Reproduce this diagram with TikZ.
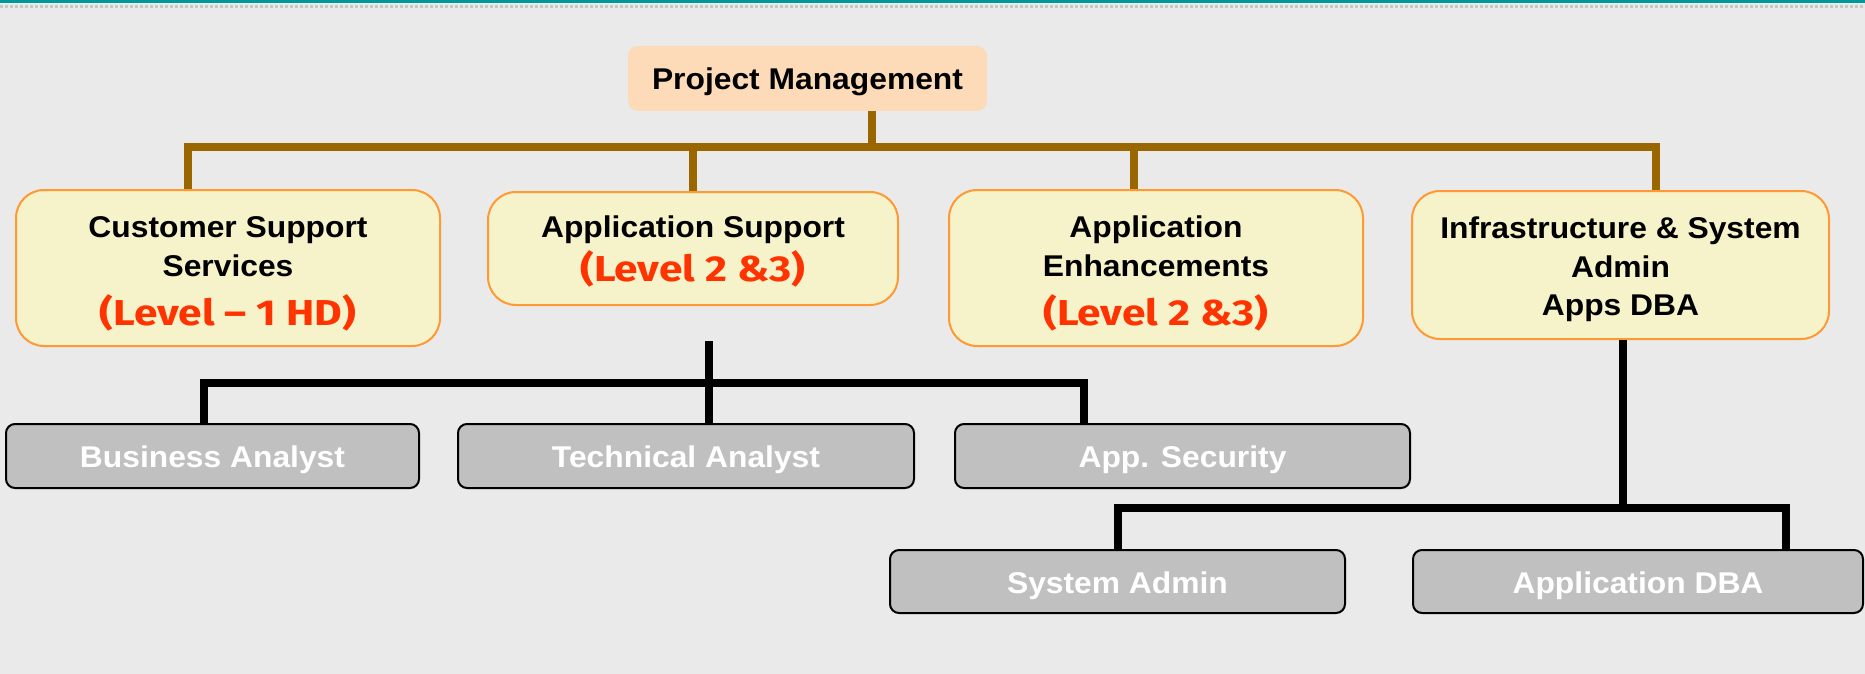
\documentclass[tikz,border=0pt]{standalone}
\usepackage{fontspec}
\setmainfont{Liberation Sans}[FakeStretch=1.06]
\newfontfamily\redfont{Fira Sans}[FakeStretch=1.18]
\definecolor{bgc}{RGB}{234,234,234}
\definecolor{tealc}{RGB}{0,153,153}
\definecolor{dotc}{RGB}{200,200,200}
\definecolor{peach}{RGB}{253,219,185}
\definecolor{cream}{RGB}{246,243,203}
\definecolor{orangeb}{RGB}{255,153,51}
\definecolor{brownc}{RGB}{153,102,0}
\definecolor{grayc}{RGB}{192,192,192}
\definecolor{redc}{RGB}{255,51,0}
\newcommand{\blk}{\fontsize{30}{38}\selectfont\bfseries}
\newcommand{\redl}{\redfont\fontsize{36}{44}\selectfont\bfseries\color{redc}}
\newcommand{\topstrut}[1]{\rule{0pt}{#1}}
\begin{document}
\begin{tikzpicture}[x=1pt,y=-1pt,
  pmbox/.style={fill=peach, rounded corners=10, inner sep=0, align=center, font=\blk, text depth=0pt},
  ybox/.style={draw=orangeb, line width=2, fill=cream, rounded corners=28, inner sep=0, align=center, font=\blk},
  gbox/.style={draw=black, line width=2, fill=grayc, rounded corners=9, inner sep=0, align=center, font=\blk, text=white, text depth=0pt},
  brownln/.style={draw=brownc, line width=8, line join=miter},
  blackln/.style={draw=black, line width=8, line join=miter}]
\useasboundingbox (0,0) rectangle (1865,674);
\fill[bgc] (0,0) rectangle (1865,674);
\fill[tealc] (0,0) rectangle (1865,3);
\draw[dotc, line width=3, dash pattern=on 3 off 2] (0,6.5) -- (1865,6.5);

% top
\node[pmbox, minimum width=359, minimum height=65] (pm) at (807.5,78.5) {Project Management};

\node[ybox, minimum width=424, minimum height=156] (cust) at (228,268)
  {\topstrut{33pt}Customer Support\\[1pt]Services\\[11pt]{\redl (Level – 1 HD)}};
\node[ybox, minimum width=410, minimum height=113] (appsup) at (693,248.5)
  {\topstrut{28pt}Application Support\\[6pt]{\redl (Level 2 \&3)}};
\node[ybox, minimum width=414, minimum height=156] (enh) at (1156,268)
  {\topstrut{33pt}Application\\[1pt]Enhancements\\[11pt]{\redl (Level 2 \&3)}};
\node[ybox, minimum width=417, minimum height=148] (infra) at (1620.5,265)
  {\topstrut{31pt}Infrastructure \& System\\[1pt]Admin\\Apps DBA};

% second level
\node[gbox, minimum width=413, minimum height=64] (bus) at (212.5,456) {\raisebox{-2pt}{Business Analyst}};
\node[gbox, minimum width=456, minimum height=64] (tech) at (686,456) {\raisebox{-2pt}{Technical Analyst}};
\node[gbox, minimum width=455, minimum height=64] (sec) at (1182.5,456) {\raisebox{-2pt}{App. Security}};
\node[gbox, minimum width=455, minimum height=63] (sys) at (1117.5,581.5) {\raisebox{-2pt}{System Admin}};
\node[gbox, minimum width=450, minimum height=63] (dba) at (1638,581.5) {\raisebox{-2pt}{Application DBA}};

% brown connectors
\coordinate (pmd) at (872,147);
\coordinate (bL) at (188,147);
\coordinate (bR) at (1656,147);
\coordinate (ed) at (1134,147);
\draw[brownln] (pm.south -| pmd) -- (pmd);
\draw[brownln] (bL |- cust.north) -- (bL) -- (bR) -- (bR |- infra.north);
\draw[brownln] (appsup.north) -- (appsup.north |- bL);
\draw[brownln] (ed) -- (ed |- enh.north);

% black connectors
\coordinate (t0) at (709,341);
\coordinate (k1) at (204,382.5);
\coordinate (k2) at (1084,382.5);
\draw[blackln] (t0) -- (t0 |- tech.north);
\draw[blackln] (k1 |- bus.north) -- (k1) -- (k2) -- (k2 |- sec.north);
\coordinate (i1) at (1623,508);
\coordinate (s1) at (1118,508);
\coordinate (s2) at (1786,508);
\draw[blackln] (infra.south -| i1) -- (i1);
\draw[blackln] (s1 |- sys.north) -- (s1) -- (s2) -- (s2 |- dba.north);
\end{tikzpicture}
\end{document}
